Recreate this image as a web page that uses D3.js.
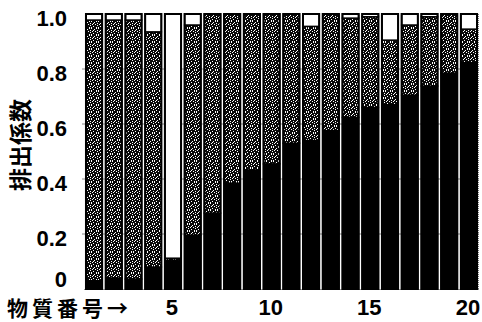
<!DOCTYPE html>
<html><head><meta charset="utf-8">
<script src="https://cdn.jsdelivr.net/npm/d3@7/dist/d3.min.js"></script>
<style>
html,body{margin:0;padding:0;background:#fff;}
svg{display:block;}
</style></head>
<body>
<svg id="c" width="482" height="322"></svg>
<script>
// ---- data ----
const substances = d3.range(1, 21);
const blackShare = [0.03,0.04,0.036,0.08,0.105,0.196,0.276,0.385,0.433,0.455,0.53,0.54,0.576,0.624,0.66,0.67,0.705,0.738,0.785,0.823];
const greyShare  = [0.948,0.938,0.942,0.855,0.007,0.764,0.724,0.615,0.567,0.545,0.47,0.415,0.424,0.361,0.33,0.235,0.255,0.252,0.215,0.122];
const whiteShare = substances.map((d,i)=> Math.max(0, 1 - blackShare[i] - greyShare[i]));
const yTicks = [0, 0.2, 0.4, 0.6, 0.8, 1.0];
const yTickLabels = ["0","0.2","0.4","0.6","0.8","1.0"];
const xTickLabels = [5, 10, 15, 20];
const yTitle = "排出係数";
const xTitle = "物質番号→";

// ---- chart ----
const svg = d3.select("#c");
const x = d3.scaleBand().domain(substances).range([84, 479]).paddingInner(0.18).paddingOuter(0.1);
const y = d3.scaleLinear().domain([0, 1]).range([289, 14]);

// stipple pattern (dark grain)
const defs = svg.append("defs");
const pat = defs.append("pattern").attr("id","stip").attr("patternUnits","userSpaceOnUse")
  .attr("width",7).attr("height",7);
pat.append("rect").attr("width",7).attr("height",7).attr("fill","#0a0a0a");
[[0,0],[3,1],[5,0],[1,3],[4,3],[6,4],[2,5],[5,6],[0,6],[2,2],[6,2]].forEach(p=>{
  pat.append("rect").attr("x",p[0]).attr("y",p[1]).attr("width",1).attr("height",1).attr("fill","#fff");
});

// gridlines
svg.append("g").selectAll("line").data(yTicks.filter(v=>v>0 && v<1)).join("line")
  .attr("x1", 82).attr("x2", 479)
  .attr("y1", d=>y(d)).attr("y2", d=>y(d))
  .attr("stroke","#888").attr("stroke-width",1);

// bottom axis line
svg.append("line").attr("x1",84).attr("x2",479).attr("y1",y(0)+0.5).attr("y2",y(0)+0.5)
  .attr("stroke","#999").attr("stroke-width",1);
// right frame (dotted)
svg.append("line").attr("x1",478.5).attr("x2",478.5).attr("y1",y(1)).attr("y2",y(0))
  .attr("stroke","#777").attr("stroke-width",1).attr("stroke-dasharray","1,1");

// stacked bars
const table = substances.map((s,i)=>({s, black:blackShare[i], grey:greyShare[i], white:whiteShare[i]}));
const keys = ["black","grey","white"];
const fills = {black:"#000", grey:"url(#stip)", white:"#fff"};
const stack = d3.stack().keys(keys)(table);
const g = svg.append("g");
stack.forEach(layer=>{
  g.append("g").selectAll("rect").data(layer).join("rect")
    .attr("x", d=>x(d.data.s))
    .attr("width", x.bandwidth())
    .attr("y", d=>y(d[1]))
    .attr("height", d=>Math.max(0, y(d[0]) - y(d[1])))
    .attr("fill", fills[layer.key])
    .attr("stroke", "#000").attr("stroke-width", 1.5);
});
// bar outlines
g.append("g").selectAll("rect").data(table).join("rect")
  .attr("x", d=>x(d.s)).attr("width", x.bandwidth())
  .attr("y", y(1)).attr("height", y(0)-y(1))
  .attr("fill","none").attr("stroke","#000").attr("stroke-width",2);

// y axis labels
const yAxis = d3.axisLeft(y).tickValues(yTicks).tickSize(0).tickPadding(0)
  .tickFormat((d,i)=>yTickLabels[i]);
const ya = svg.append("g").attr("transform","translate(67,3)").call(yAxis);
ya.select(".domain").remove();
ya.selectAll("text").attr("font-family","'Liberation Sans Narrow','Arial Narrow','Liberation Sans',Arial,sans-serif")
  .attr("font-weight","bold").attr("font-size",22).attr("fill","#000")
  .attr("dy", d=> d===0 ? "-0.25em" : "0.38em");

// x axis labels
const xAxis = d3.axisBottom(x).tickValues(xTickLabels).tickSize(0).tickPadding(0);
const xa = svg.append("g").attr("transform",`translate(-1,${y(0)+1})`).call(xAxis);
xa.select(".domain").remove();
xa.selectAll("text").attr("font-family","'Liberation Sans Narrow','Arial Narrow','Liberation Sans',Arial,sans-serif")
  .attr("font-weight","bold").attr("font-size",22).attr("fill","#000").attr("dy","1.15em");

// titles
svg.append("text").attr("transform","translate(29,145) rotate(-90)")
  .attr("text-anchor","middle")
  .attr("font-family","'Noto Sans CJK JP',sans-serif").attr("font-weight","bold")
  .attr("font-size",23).attr("fill","#000").text(yTitle);
svg.append("text").attr("x",7).attr("y",316)
  .attr("font-family","'Noto Sans CJK JP',sans-serif").attr("font-weight","bold")
  .attr("font-size",21).attr("letter-spacing",4).attr("fill","#000").text(xTitle);
</script>
</body></html>
